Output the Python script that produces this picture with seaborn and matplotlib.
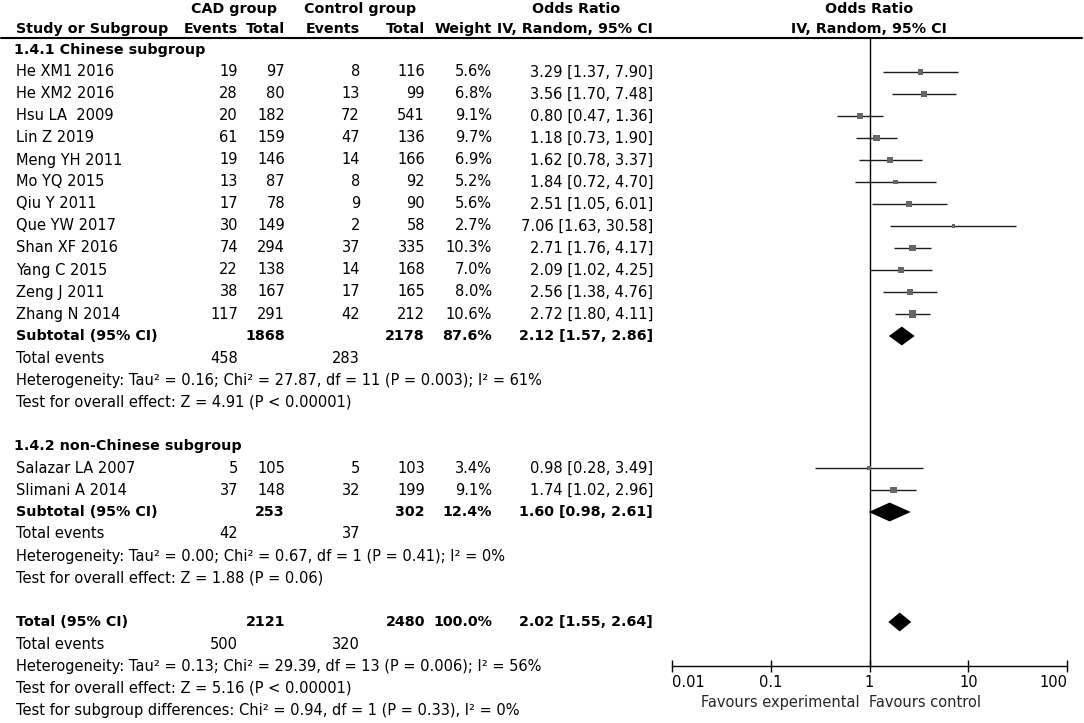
import matplotlib
matplotlib.use("Agg")
import numpy as np
import pandas as pd
import matplotlib.pyplot as plt
import seaborn as sns
from matplotlib.ticker import NullLocator

# study level data
studies = ["He XM1 2016", "He XM2 2016", "Hsu LA  2009", "Lin Z 2019", "Meng YH 2011",
           "Mo YQ 2015", "Qiu Y 2011", "Que YW 2017", "Shan XF 2016", "Yang C 2015",
           "Zeng J 2011", "Zhang N 2014", "Salazar LA 2007", "Slimani A 2014"]
group = [1] * 12 + [2] * 2
cad_events = [19, 28, 20, 61, 19, 13, 17, 30, 74, 22, 38, 117, 5, 37]
cad_total = [97, 80, 182, 159, 146, 87, 78, 149, 294, 138, 167, 291, 105, 148]
ctl_events = [8, 13, 72, 47, 14, 8, 9, 2, 37, 14, 17, 42, 5, 32]
ctl_total = [116, 99, 541, 136, 166, 92, 90, 58, 335, 168, 165, 212, 103, 199]
weight = [5.6, 6.8, 9.1, 9.7, 6.9, 5.2, 5.6, 2.7, 10.3, 7.0, 8.0, 10.6, 3.4, 9.1]
or_est = [3.29, 3.56, 0.80, 1.18, 1.62, 1.84, 2.51, 7.06, 2.71, 2.09, 2.56, 2.72, 0.98, 1.74]
or_lo = [1.37, 1.70, 0.47, 0.73, 0.78, 0.72, 1.05, 1.63, 1.76, 1.02, 1.38, 1.80, 0.28, 1.02]
or_hi = [7.90, 7.48, 1.36, 1.90, 3.37, 4.70, 6.01, 30.58, 4.17, 4.25, 4.76, 4.11, 3.49, 2.96]

# pooled results (subgroup 1, subgroup 2, overall)
subgroups = ["1.4.1 Chinese subgroup", "1.4.2 non-Chinese subgroup"]
pool_label = ["Subtotal (95% CI)", "Subtotal (95% CI)", "Total (95% CI)"]
pool_cad_total = [1868, 253, 2121]
pool_ctl_total = [2178, 302, 2480]
pool_weight = [87.6, 12.4, 100.0]
pool_or = [2.12, 1.60, 2.02]
pool_lo = [1.57, 0.98, 1.55]
pool_hi = [2.86, 2.61, 2.64]
pool_cad_events = [458, 42, 500]
pool_ctl_events = [283, 37, 320]
heterogeneity = ["Heterogeneity: Tau\u00b2 = 0.16; Chi\u00b2 = 27.87, df = 11 (P = 0.003); I\u00b2 = 61%",
                 "Heterogeneity: Tau\u00b2 = 0.00; Chi\u00b2 = 0.67, df = 1 (P = 0.41); I\u00b2 = 0%",
                 "Heterogeneity: Tau\u00b2 = 0.13; Chi\u00b2 = 29.39, df = 13 (P = 0.006); I\u00b2 = 56%"]
overall = ["Test for overall effect: Z = 4.91 (P < 0.00001)",
           "Test for overall effect: Z = 1.88 (P = 0.06)",
           "Test for overall effect: Z = 5.16 (P < 0.00001)"]
subgroup_diff = "Test for subgroup differences: Chi\u00b2 = 0.94, df = 1 (P = 0.33), I\u00b2 = 0%"
xticks = [0.01, 0.1, 1, 10, 100]
xtick_labels = ["0.01", "0.1", "1", "10", "100"]

FS = 10.5
FB = 10.3
sns.set_theme(style="white")
plt.rcParams["font.family"] = ["DejaVu Sans"]
plt.rcParams["font.size"] = FS

# row layout: row r sits at pixel 50 + 22 * r
start = {1: 1, 2: 19}
counter = {1: 0, 2: 0}
rows = []
for g in group:
    rows.append(start[g] + counter[g])
    counter[g] += 1
head_rows = [0, 18]
pool_rows = [13, 21, 26]

df = pd.DataFrame({"study": studies, "row": rows, "weight": weight,
                   "or": or_est, "lo": or_lo, "hi": or_hi})

fig = plt.figure(figsize=(10.84, 7.23), dpi=100)
tab = fig.add_axes([0, 0, 1, 1])
tab.set_xlim(0, 1084)
tab.set_ylim((723 - 50) / 22, -50 / 22)
tab.axis("off")

col_x = [238, 285, 360, 425, 492, 653]
LX = 16


def put(x, r, s, ha="right", bold=False):
    tab.text(x, r, s, ha=ha, va="center", fontsize=FB if bold else FS,
             fontweight="bold" if bold else "normal", color="black")


# header
top = -1.87
put(234, top, "CAD group", ha="center", bold=True)
put(360, top, "Control group", ha="center", bold=True)
put(576, top, "Odds Ratio", ha="center", bold=True)
put(869, top, "Odds Ratio", ha="center", bold=True)
put(LX, -0.97, "Study or Subgroup", ha="left", bold=True)
for x, s in zip(col_x, ["Events", "Total", "Events", "Total", "Weight", "IV, Random, 95% CI"]):
    put(x, -0.97, s, bold=True)
put(869, -0.97, "IV, Random, 95% CI", ha="center", bold=True)
tab.plot([1, 1082], [-12 / 22, -12 / 22], color="black", lw=1.5)

for r, s in zip(head_rows, subgroups):
    put(LX - 2, r, s, ha="left", bold=True)

for i in range(len(studies)):
    r = rows[i]
    put(LX, r, studies[i], ha="left")
    put(col_x[0], r, str(cad_events[i]))
    put(col_x[1], r, str(cad_total[i]))
    put(col_x[2], r, str(ctl_events[i]))
    put(col_x[3], r, str(ctl_total[i]))
    put(col_x[4], r, f"{weight[i]:.1f}%")
    put(col_x[5], r, f"{or_est[i]:.2f} [{or_lo[i]:.2f}, {or_hi[i]:.2f}]")

for k in range(3):
    r = pool_rows[k]
    put(LX, r, pool_label[k], ha="left", bold=True)
    put(col_x[1], r, str(pool_cad_total[k]), bold=True)
    put(col_x[3], r, str(pool_ctl_total[k]), bold=True)
    put(col_x[4], r, f"{pool_weight[k]:.1f}%", bold=True)
    put(col_x[5], r, f"{pool_or[k]:.2f} [{pool_lo[k]:.2f}, {pool_hi[k]:.2f}]", bold=True)
    put(LX, r + 1, "Total events", ha="left")
    put(col_x[0], r + 1, str(pool_cad_events[k]))
    put(col_x[2], r + 1, str(pool_ctl_events[k]))
    put(LX, r + 2, heterogeneity[k], ha="left")
    put(LX, r + 3, overall[k], ha="left")
put(LX, 30, subgroup_diff, ha="left")

# forest panel: 0.01..100 spans pixels 671.7..1067.3, rows -0.545..28
fp = fig.add_axes([671.7 / 1084, 57 / 723, 395.6 / 1084, 628 / 723])
fp.patch.set_alpha(0)
fp.hlines(df["row"], df["lo"], df["hi"], color="#1e1e1e", lw=1.0, zorder=2)
wmin, wmax = min(weight), max(weight)
sns.scatterplot(data=df, x="or", y="row", size="weight", sizes=(2.4 * wmin, 2.4 * wmax),
                size_norm=(wmin, wmax), marker="s", color="#666666", linewidth=0,
                legend=False, ax=fp, zorder=3)
h = 0.43
for k in range(3):
    r = pool_rows[k]
    fp.fill([pool_lo[k], pool_or[k], pool_hi[k], pool_or[k]], [r, r - h, r, r + h],
            color="black", lw=0, zorder=4)
fp.axvline(1, color="black", lw=1.0, zorder=1)

fp.set_xscale("log")
fp.set_xlim(0.01, 100)
fp.set_ylim(28, -12 / 22)
fp.set_xticks(xticks)
fp.set_xticklabels(xtick_labels)
fp.xaxis.set_minor_locator(NullLocator())
fp.set_yticks([])
fp.set_xlabel("")
fp.set_ylabel("")
for side in ["left", "right", "top"]:
    fp.spines[side].set_visible(False)
fp.spines["bottom"].set_color("black")
fp.spines["bottom"].set_linewidth(1.0)
fp.tick_params(axis="x", bottom=True, direction="inout", length=8, width=1.0,
               pad=2.5, colors="black", labelsize=FS)
ticklabels = fp.get_xticklabels()
ticklabels[0].set_ha("left")
ticklabels[-1].set_ha("right")
fp.text(0.80, 29.68, "Favours experimental", ha="right", va="center", fontsize=FS, clip_on=False)
fp.text(0.995, 29.68, "Favours control", ha="left", va="center", fontsize=FS, clip_on=False)

fig.savefig("out.png", dpi=100)
